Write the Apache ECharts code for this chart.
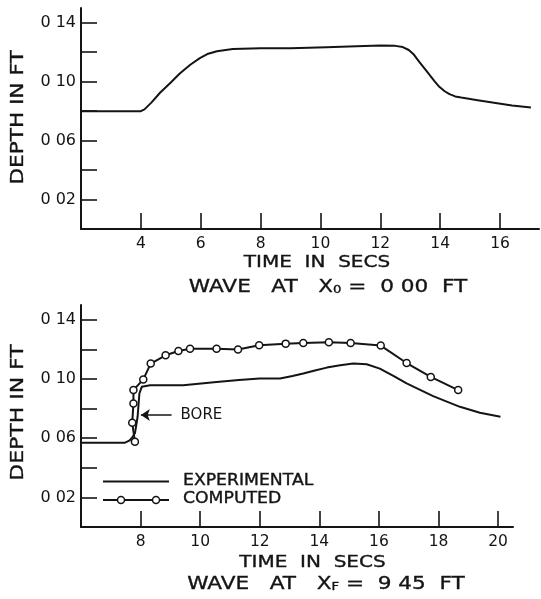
<!DOCTYPE html>
<html><head><meta charset="utf-8">
<script src="https://cdn.jsdelivr.net/npm/echarts@6/dist/echarts.min.js"></script>
<style>html,body{margin:0;padding:0;background:#fff}#c{width:541px;height:599px}</style>
</head><body><div id="c"></div>
<script>
// ---- Top panel: wave at X0 = 0.00 ft (experimental record)
const topTime  = [2.0, 4.0, 4.12, 4.35, 4.64, 5.0, 5.3, 5.65, 5.97, 6.25, 6.54, 7.07, 8.0, 9.0, 10.2, 11.2, 12.0, 12.5, 12.75, 12.95, 13.1, 13.3, 13.54, 13.8, 13.97, 14.15, 14.31, 14.5, 14.7, 15.2, 15.74, 16.4, 17.03];
const topDepth = [0.080, 0.080, 0.0812, 0.0858, 0.0925, 0.0995, 0.1055, 0.1115, 0.1160, 0.1190, 0.1207, 0.1222, 0.1226, 0.1227, 0.1234, 0.1240, 0.1245, 0.1243, 0.1235, 0.1215, 0.1188, 0.1135, 0.1074, 0.1005, 0.0965, 0.0935, 0.0915, 0.0900, 0.0892, 0.0876, 0.0858, 0.0838, 0.0824];

// ---- Bottom panel: wave at XF = 9.45 ft
const expTime  = [6.0, 7.48, 7.62, 7.70, 7.81, 7.90, 7.96, 8.04, 8.32, 9.43, 10.55, 11.3, 12.0, 12.68, 13.1, 13.46, 13.85, 14.25, 14.7, 15.14, 15.59, 16.03, 16.5, 16.93, 17.4, 17.82, 18.3, 18.72, 19.39, 20.08];
const expDepth = [0.057, 0.057, 0.0583, 0.060, 0.0633, 0.0745, 0.0902, 0.0947, 0.0958, 0.0958, 0.098, 0.0993, 0.1003, 0.1003, 0.102, 0.1037, 0.1058, 0.1077, 0.1093, 0.1104, 0.110, 0.107, 0.102, 0.097, 0.0925, 0.0884, 0.0845, 0.0812, 0.0772, 0.0745];
const compTime  = [7.81, 7.72, 7.76, 7.76, 8.09, 8.34, 8.84, 9.27, 9.66, 10.55, 11.27, 11.98, 12.87, 13.46, 14.32, 15.05, 16.06, 16.93, 17.74, 18.66];
const compDepth = [0.0576, 0.0704, 0.0835, 0.0925, 0.0997, 0.1104, 0.116, 0.1189, 0.1205, 0.1205, 0.1199, 0.1228, 0.1239, 0.1243, 0.1248, 0.1243, 0.1226, 0.1108, 0.1014, 0.0925];

// ---- Axes / ticks / labels
const topXRange = [2, 17.3];
const botXRange = [6, 20.5];
const yRange = [0, 0.15];
const topXTicks = [4, 6, 8, 10, 12, 14, 16];
const botXTicks = [8, 10, 12, 14, 16, 18, 20];
const yTicks = [0.02, 0.04, 0.06, 0.08, 0.10, 0.12, 0.14];
const yLabelValues = [0.02, 0.06, 0.10, 0.14];
const yLabelText = ['0 02', '0 06', '0 10', '0 14'];

// ---- Text
const yName = 'DEPTH IN FT';
const xName = 'TIME  IN  SECS';
const legendNames = ['EXPERIMENTAL', 'COMPUTED'];
const boreLabel = 'BORE';
const borePoint = { from: [9.04, 0.0756], to: [8.01, 0.0756] };

const INK = '#141414';
const FONT = '"DejaVu Sans", "Liberation Sans", sans-serif';

const zip = (a, b) => a.map((v, i) => [v, b[i]]);

function xAxisCfg(gridIndex, range, ticks) {
  return {
    type: 'value', gridIndex, min: range[0], max: range[1],
    axisLine: { show: true, onZero: false, lineStyle: { color: INK, width: 2 } },
    axisTick: { show: true, inside: true, length: 16, customValues: ticks, lineStyle: { color: INK, width: 1.6 } },
    axisLabel: { show: true, customValues: ticks, margin: 7, color: INK, fontSize: 15.5, fontFamily: FONT },
    splitLine: { show: false }
  };
}
function yAxisCfg(gridIndex) {
  return {
    type: 'value', gridIndex, min: yRange[0], max: yRange[1],
    axisLine: { show: true, onZero: false, lineStyle: { color: INK, width: 2 } },
    axisTick: { show: true, inside: true, length: 16, customValues: yTicks, lineStyle: { color: INK, width: 1.6 } },
    axisLabel: {
      show: true, customValues: yLabelValues, margin: 5, color: INK, fontSize: 16, fontFamily: FONT,
      formatter: v => { const i = yLabelValues.findIndex(t => Math.abs(t - v) < 1e-6); return i >= 0 ? yLabelText[i] : ''; }
    },
    splitLine: { show: false }
  };
}

function txt(x, y, text, size, opts) {
  opts = opts || {};
  return {
    type: 'text', x, y, rotation: opts.rotation || 0, scaleX: opts.scaleX || 1, silent: true,
    style: {
      text, font: size + 'px ' + FONT, fill: INK, stroke: INK, lineWidth: 0.35,
      align: opts.align || 'center', textAlign: opts.align || 'center',
      verticalAlign: 'middle', textVerticalAlign: 'middle',
      rich: opts.rich
    }
  };
}
const subRich = { s: { fontSize: 11, fontFamily: FONT, fill: INK, color: INK, verticalAlign: 'bottom', padding: [6, 0, 0, 0] } };

const chart = echarts.init(document.getElementById('c'), null, { renderer: 'canvas' });
chart.setOption({
  animation: false,
  backgroundColor: '#fff',
  grid: [
    { left: 81, top: 8, width: 458, height: 221, containLabel: false, outerBoundsMode: 'none' },
    { left: 81, top: 305, width: 432, height: 222, containLabel: false, outerBoundsMode: 'none' }
  ],
  xAxis: [xAxisCfg(0, topXRange, topXTicks), xAxisCfg(1, botXRange, botXTicks)],
  yAxis: [yAxisCfg(0), yAxisCfg(1)],
  series: [
    {
      name: 'X0 record', type: 'line', xAxisIndex: 0, yAxisIndex: 0,
      data: zip(topTime, topDepth), showSymbol: false, smooth: false,
      lineStyle: { color: INK, width: 2, join: 'round' }
    },
    {
      name: legendNames[0], type: 'line', xAxisIndex: 1, yAxisIndex: 1,
      data: zip(expTime, expDepth), showSymbol: false, smooth: false,
      lineStyle: { color: INK, width: 2, join: 'round' },
      markLine: {
        silent: true, symbol: ['none', 'arrow'], symbolSize: 9,
        lineStyle: { color: INK, width: 1.5, type: 'solid' },
        label: { show: true, position: 'start', distance: 9, formatter: boreLabel, color: INK, fontSize: 15, fontFamily: FONT },
        data: [[{ coord: borePoint.from }, { coord: borePoint.to }]]
      }
    },
    {
      name: legendNames[1], type: 'line', xAxisIndex: 1, yAxisIndex: 1,
      data: zip(compTime, compDepth), symbol: 'circle', symbolSize: 7, showAllSymbol: true,
      lineStyle: { color: INK, width: 2 },
      itemStyle: { color: '#fff', borderColor: INK, borderWidth: 1.5 }
    }
  ],
  graphic: [
    // top panel texts
    txt(18.5, 117.5, yName, 18, { rotation: Math.PI / 2, scaleX: 1.2 }),
    txt(317, 262.5, xName, 16, { scaleX: 1.25 }),
    txt(328, 287, 'WAVE   AT   X{s|0} =  0 00  FT', 18, { scaleX: 1.2, rich: subRich }),
    // bottom panel texts
    txt(18.8, 412.5, yName, 18, { rotation: Math.PI / 2, scaleX: 1.22 }),
    txt(312.5, 562.5, xName, 16, { scaleX: 1.25 }),
    txt(326, 584, 'WAVE   AT   X{s|F} =  9 45  FT', 18, { scaleX: 1.2, rich: subRich }),
    // legend
    { type: 'line', silent: true, shape: { x1: 103, y1: 481.5, x2: 169, y2: 481.5 }, style: { stroke: INK, lineWidth: 2 } },
    { type: 'line', silent: true, shape: { x1: 103, y1: 500, x2: 169, y2: 500 }, style: { stroke: INK, lineWidth: 2 } },
    { type: 'circle', silent: true, shape: { cx: 121, cy: 500, r: 3.5 }, style: { fill: '#fff', stroke: INK, lineWidth: 1.5 } },
    { type: 'circle', silent: true, shape: { cx: 156, cy: 500, r: 3.5 }, style: { fill: '#fff', stroke: INK, lineWidth: 1.5 } },
    txt(183, 481.5, legendNames[0], 15, { align: 'left', scaleX: 1.15 }),
    txt(183, 499.5, legendNames[1], 15, { align: 'left', scaleX: 1.15 })
  ]
});
</script>
</body></html>
